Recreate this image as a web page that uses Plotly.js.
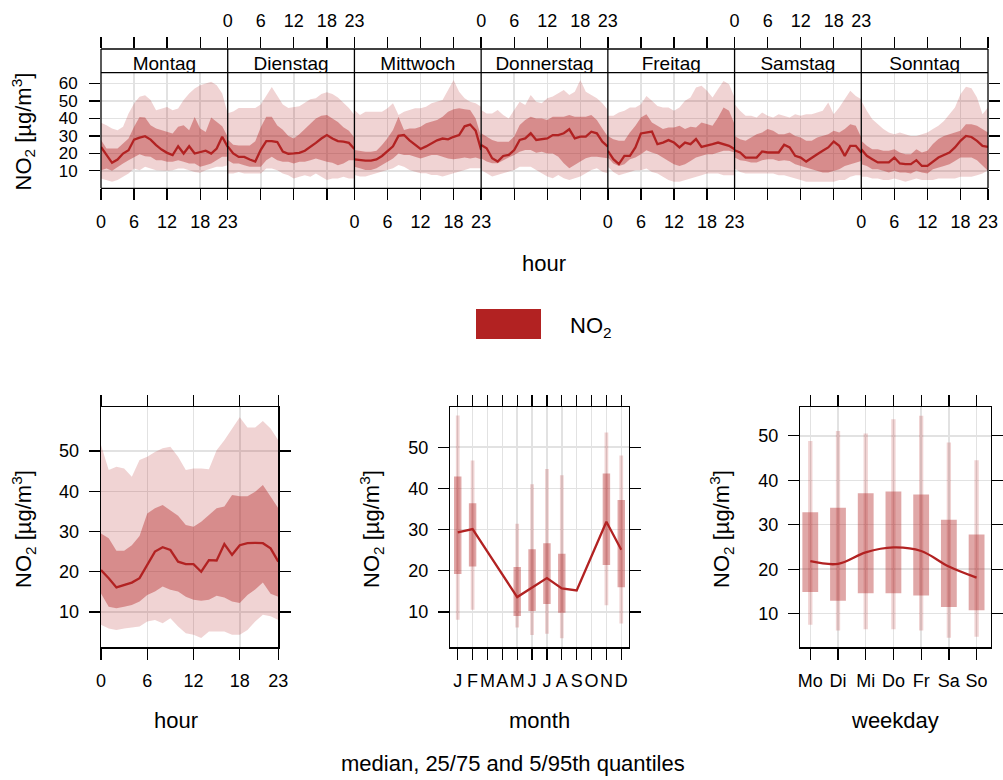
<!DOCTYPE html>
<html><head><meta charset="utf-8">
<script src="https://cdn.plot.ly/plotly-3.0.1.min.js"></script>
<style>html,body{margin:0;padding:0;background:#fff}#chart{width:1003px;height:780px}</style>
</head><body><div id="chart"></div>
<script>
// ---------------- DATA ----------------
const hours = [0,1,2,3,4,5,6,7,8,9,10,11,12,13,14,15,16,17,18,19,20,21,22,23];
const dayNames = ['Montag','Dienstag','Mittwoch','Donnerstag','Freitag','Samstag','Sonntag'];
const hourTicks = [0,6,12,18,23];

const moMed = [23.7,19.0,14.6,16.5,19.9,21.8,27.9,29.0,29.8,27.9,24.7,22.2,20.3,19.0,24.1,19.9,24.1,19.9,20.9,21.5,19.9,22.8,29.5,23.7];
const moQ75 = [27.6,22.8,22.8,22.8,25.6,28.5,35.2,40.9,40.5,36.1,34.2,33.3,32.3,31.4,35.2,36.1,33.3,40.9,34.2,32.3,40.5,38.0,35.6,29.5];
const moQ25 = [10.4,11.3,10.0,12.3,14.2,16.1,18.0,19.5,18.4,18.0,16.1,16.1,15.2,15.2,16.1,15.2,14.2,14.2,12.3,13.2,14.2,16.1,18.0,18.0];
const moQ95 = [37.5,36.1,34.2,33.3,35.2,42.8,48.5,52.4,53.3,50.5,44.7,45.7,46.6,44.7,45.7,50.5,54.3,57.1,59.0,60.0,61.0,59.0,54.3,42.8];
const moQ5  = [5.6,4.7,3.7,4.7,6.6,8.5,11.3,10.4,12.3,11.3,10.4,10.4,10.0,10.4,11.3,11.3,10.4,9.4,8.9,10.4,11.3,12.3,12.3,13.2];

const diMed = [24.0,20.0,18.0,18.0,16.5,15.3,22.0,27.0,27.0,26.5,21.0,19.8,20.0,20.3,21.5,23.5,26.0,28.5,30.5,28.5,27.0,26.7,26.0,22.5];
const diQ75 = [28.0,25.0,24.5,24.5,24.5,27.0,35.0,41.0,41.0,36.0,33.5,30.0,28.5,31.0,34.0,37.0,40.0,41.5,42.0,40.0,38.0,35.0,33.0,29.0];
const diQ25 = [16.1,14.2,14.2,13.2,12.3,12.3,12.3,16.1,18.0,16.1,15.2,15.2,14.2,15.2,15.2,16.1,17.1,16.1,15.2,14.6,13.2,14.2,16.1,16.1];
const diQ95 = [43.0,44.0,46.0,46.0,46.0,46.0,48.0,53.0,58.0,53.0,48.0,46.0,46.5,47.0,49.0,51.0,51.5,54.0,55.0,54.0,52.0,49.0,46.0,42.0];
const diQ5  = [8.5,8.5,9.4,8.5,8.5,8.5,8.5,11.3,11.3,10.4,8.5,7.5,5.6,6.6,7.5,6.6,8.5,6.6,4.7,5.6,5.6,6.6,5.6,5.6];

const miMed = [16.6,16.0,15.8,15.8,16.5,18.5,21.5,24.0,30.0,30.5,27.5,25.0,22.5,24.0,26.0,27.5,28.5,28.0,29.5,30.5,35.5,36.5,33.0,22.0];
const miQ75 = [22.0,21.5,21.0,21.0,21.5,24.8,28.6,33.4,41.0,33.4,34.3,34.3,35.3,37.2,38.1,39.1,41.0,43.9,45.2,45.8,45.2,44.8,40.0,29.6];
const miQ25 = [12.4,11.5,10.5,10.5,11.5,13.3,15.2,17.1,20.0,19.0,19.0,18.1,17.1,18.1,19.0,19.0,18.1,17.1,16.6,17.1,17.7,17.1,17.7,16.6];
const miQ95 = [44.8,42.0,43.9,43.9,43.9,43.9,45.8,48.7,42.0,43.9,44.8,45.8,45.8,46.7,48.7,49.6,50.6,56.3,62.0,55.3,51.5,49.6,48.7,46.7];
const miQ5  = [7.6,6.7,6.7,7.6,8.6,9.5,10.5,11.5,13.3,12.4,10.5,9.5,8.6,8.6,7.6,7.6,6.7,7.6,8.6,9.5,10.5,11.5,11.5,11.5];

const doMed = [24.8,22.9,17.2,15.3,18.5,19.1,21.9,27.7,28.6,31.5,27.7,28.0,28.6,30.5,30.5,31.5,33.8,28.6,29.6,29.6,32.4,31.5,26.7,23.8];
const doQ75 = [31.5,29.6,27.7,26.7,26.7,26.7,29.6,36.3,39.1,41.0,40.0,40.0,39.1,41.0,41.0,41.0,42.0,41.0,41.0,41.0,42.0,39.1,34.3,29.6];
const doQ25 = [17.2,15.3,14.3,14.3,16.2,17.7,19.0,21.0,21.9,21.9,20.4,21.0,20.0,20.0,18.1,14.3,11.5,13.3,15.3,17.2,18.1,18.1,17.7,17.2];
const doQ95 = [44.8,42.9,42.9,44.8,42.0,40.0,44.8,49.6,47.7,53.4,49.6,48.7,51.5,52.5,54.4,56.3,53.4,55.3,62.0,55.3,53.4,51.5,48.7,44.8];
const doQ5  = [10.5,8.6,6.7,7.6,8.6,9.5,10.5,12.4,12.4,12.4,10.5,8.6,6.7,5.7,7.6,5.7,4.8,5.7,6.7,8.6,10.5,11.5,9.5,8.6];

const frMed = [21.5,16.7,13.9,18.6,18.6,23.4,31.4,31.9,32.5,25.3,26.2,27.6,26.2,23.4,26.2,25.3,28.2,23.7,24.3,25.3,26.2,25.3,24.3,22.4];
const frQ75 = [30.0,28.1,27.2,27.2,31.9,35.8,40.5,42.4,37.7,35.8,33.9,34.8,34.8,35.8,33.9,35.2,34.8,37.7,36.7,35.8,40.5,46.3,44.4,36.7];
const frQ25 = [17.6,14.2,12.8,13.8,16.7,17.6,19.5,21.8,20.5,19.5,17.6,15.7,13.8,12.8,13.8,15.7,17.6,18.5,19.5,19.5,20.5,21.5,21.5,20.5];
const frQ95 = [41.5,41.5,43.4,44.4,46.3,46.3,48.2,52.9,50.1,47.2,46.3,46.3,44.4,46.3,50.1,52.0,57.7,58.7,55.8,52.0,56.8,61.5,59.6,52.0];
const frQ5  = [12.3,9.4,7.5,8.5,9.4,10.4,10.4,11.3,9.4,8.5,6.6,4.7,3.7,3.7,4.7,5.6,6.6,7.5,8.5,8.5,8.5,7.5,7.5,7.5];

const saMed = [21.8,20.5,17.6,17.6,17.6,21.1,20.5,20.5,20.5,24.9,23.4,18.6,17.6,15.3,17.6,19.5,21.5,23.4,26.8,24.3,18.6,24.3,24.3,20.5];
const saQ75 = [30.0,28.1,27.2,29.1,31.0,31.9,33.9,32.9,31.0,31.0,31.9,30.0,29.1,27.2,27.2,29.1,30.0,31.0,32.9,31.9,33.9,36.7,35.8,29.1];
const saQ25 = [17.6,16.1,15.7,14.8,14.8,16.1,16.7,16.7,15.7,16.1,15.7,13.8,12.8,11.9,10.9,10.0,9.0,9.0,10.0,10.9,12.8,13.8,14.8,15.7];
const saQ95 = [48.2,44.4,41.5,41.5,40.5,43.4,41.5,40.5,42.4,41.5,40.5,42.4,41.5,42.4,42.4,43.4,44.4,49.1,42.4,46.3,51.0,55.8,52.9,51.0];
const saQ5  = [11.3,9.4,8.5,8.5,8.5,8.5,8.5,8.5,7.5,7.5,6.6,5.6,4.7,3.7,3.7,3.7,3.7,3.7,3.7,4.7,4.7,6.6,7.5,7.5];

const soMed = [22.4,18.6,16.7,14.8,14.8,14.8,17.6,14.2,13.8,13.8,16.1,12.8,12.8,15.3,17.6,19.1,20.5,23.4,27.2,30.0,29.4,27.2,24.3,23.7];
const soQ75 = [27.2,24.3,22.4,22.4,21.5,21.5,22.4,20.5,19.5,19.5,22.4,20.5,21.5,25.3,28.2,30.0,31.0,31.9,32.9,36.7,36.7,35.8,33.9,31.9];
const soQ25 = [13.8,12.8,10.9,10.9,10.0,9.0,10.0,9.0,9.0,8.5,10.0,9.0,8.5,10.9,11.9,12.8,13.8,15.7,17.6,17.6,17.6,16.1,12.8,10.0];
const soQ95 = [50.1,44.4,39.6,36.7,33.9,31.9,31.0,31.9,31.0,30.0,30.0,31.0,31.9,33.9,35.8,38.6,42.4,46.3,53.9,58.1,57.3,52.0,42.4,46.3];
const soQ5  = [6.6,6.6,5.6,5.6,4.7,4.7,5.6,4.7,3.7,4.7,5.6,4.7,4.7,4.7,5.6,5.6,5.6,5.6,6.6,6.6,6.6,7.5,8.5,10.4];

// diurnal (all days)
const hourMed = [20.4,18.4,16.1,16.7,17.3,18.4,21.7,25.0,26.1,25.4,22.5,21.9,21.9,20.0,22.9,22.8,26.9,24.2,26.6,27.1,27.2,27.1,25.8,22.5];
const hourQ75 = [29.5,28.3,25.2,25.2,26.6,28.9,34.5,35.8,36.6,35.3,33.9,31.6,31.2,32.4,34.1,35.8,36.2,39.1,38.8,38.8,39.9,41.6,38.7,35.8];
const hourQ25 = [14.6,11.3,10.9,11.3,11.7,12.6,14.2,15.1,16.3,15.5,15.1,13.8,13.0,12.8,13.0,14.0,13.6,12.6,12.2,14.2,15.6,17.3,14.5,13.8];
const hourQ95 = [51.5,45.3,46.1,45.7,43.6,47.8,48.6,49.8,50.7,51.1,48.6,45.3,45.7,45.7,45.5,50.2,52.7,55.6,58.4,55.9,55.9,57.5,55.6,52.7];
const hourQ5  = [6.8,5.9,5.5,5.9,6.2,6.4,7.6,8.0,7.2,8.4,6.4,4.7,4.3,3.5,5.1,5.1,5.1,4.3,4.3,5.5,7.6,9.3,8.9,8.0];

// month
const months = [1,2,3,4,5,6,7,8,9,10,11,12];
const monthLabels = ['J','F','M','A','M','J','J','A','S','O','N','D'];
const monthMed = [29.3,30.1,null,null,13.6,15.9,18.2,15.7,15.2,null,31.9,25.1];
const monthQ25 = [19.2,21.0,null,null,9.0,10.2,11.9,9.8,null,null,21.4,16.0];
const monthQ75 = [42.9,36.4,null,null,20.9,25.2,26.7,24.1,null,null,43.6,37.2];
const monthQ5  = [8.1,10.5,null,null,6.2,4.4,4.7,3.6,null,null,11.6,7.2];
const monthQ95 = [57.7,46.8,null,null,31.4,41.0,44.7,43.2,null,null,53.6,48.0];

// weekday
const wdays = [1,2,3,4,5,6,7];
const wdayLabels = ['Mo','Di','Mi','Do','Fr','Sa','So'];
const wdMed = [21.8,21.2,23.8,24.9,24.1,20.6,18.1];
const wdQ25 = [14.9,12.9,14.6,14.6,14.1,11.5,10.8];
const wdQ75 = [32.8,33.8,37.1,37.5,36.8,31.1,27.8];
const wdQ5  = [7.5,6.2,6.5,6.5,6.2,4.6,4.8];
const wdQ95 = [48.8,51.1,50.5,53.7,54.5,48.5,44.5];

// ---------------- BUILD ----------------
const W = 1003, H = 780;
const px = v => v / W;
const py = v => 1 - v / H;
const FONT = 'Liberation Sans, Arial, sans-serif';
const RED = 'rgb(178,34,34)';
const OUTER = 'rgba(178,34,34,0.2)';
const INNER = 'rgba(178,34,34,0.4)';
const GRID = '#e2e2e2';
const TICKF = {family: FONT, size: 18, color: '#000'};

const days = [
  [moMed, moQ25, moQ75, moQ5, moQ95],
  [diMed, diQ25, diQ75, diQ5, diQ95],
  [miMed, miQ25, miQ75, miQ5, miQ95],
  [doMed, doQ25, doQ75, doQ5, doQ95],
  [frMed, frQ25, frQ75, frQ5, frQ95],
  [saMed, saQ25, saQ75, saQ5, saQ95],
  [soMed, soQ25, soQ75, soQ5, soQ95]
];

function band(xs, lo, hi, xa, ya, color) {
  return {type: 'scatter', mode: 'lines', x: xs.concat(xs.slice().reverse()),
    y: hi.concat(lo.slice().reverse()), fill: 'toself', fillcolor: color,
    line: {width: 0}, xaxis: xa, yaxis: ya, hoverinfo: 'skip'};
}
function medLine(xs, ys, xa, ya, extra) {
  return Object.assign({type: 'scatter', mode: 'lines', x: xs, y: ys,
    line: {color: RED, width: 2.3}, xaxis: xa, yaxis: ya, hoverinfo: 'skip'}, extra || {});
}

const traces = [];
const layout = {
  width: W, height: H, margin: {l: 0, r: 0, t: 0, b: 0},
  paper_bgcolor: '#fff', plot_bgcolor: 'rgba(0,0,0,0)',
  showlegend: false, barmode: 'overlay', hovermode: false,
  font: {family: FONT, color: '#000'},
  shapes: [], annotations: []
};

// top panels geometry
const L = 101, R = 988, pw = (R - L) / 7;
const stripTop = 49, panelTop = 72.7, panelBot = 188.3;

const axBase = {
  ticks: 'outside', ticklen: 11, tickwidth: 1.3, tickcolor: '#000',
  tickfont: TICKF, tickangle: 0, zeroline: false, fixedrange: true, showline: false
};

days.forEach((d, i) => {
  const n = i + 1, sn = i + 8;
  const xa = 'x' + (n === 1 ? '' : n);
  const sa = 'x' + sn;
  const dom = [px(L + i * pw), px(L + (i + 1) * pw)];
  layout['xaxis' + (n === 1 ? '' : n)] = Object.assign({}, axBase, {
    domain: dom, anchor: 'y', side: 'bottom', range: [0, 23],
    tickmode: 'array', tickvals: hourTicks, ticktext: hourTicks.map(String),
    showticklabels: i % 2 === 0, showgrid: true, gridcolor: GRID, gridwidth: 1.5,
    ticklabelstandoff: 6
  });
  layout['xaxis' + sn] = Object.assign({}, axBase, {
    domain: dom, anchor: 'y2', side: 'top', range: [0, 23],
    tickmode: 'array', tickvals: hourTicks, ticktext: hourTicks.map(String),
    showticklabels: i % 2 === 1, showgrid: false, ticklabelstandoff: 3
  });
  const [med, q25, q75, q5, q95] = d;
  traces.push(band(hours, q5, q95, xa, 'y', OUTER));
  traces.push(band(hours, q25, q75, xa, 'y', INNER));
  traces.push(medLine(hours, med, xa, 'y'));
  traces.push({type: 'scatter', mode: 'text', x: [11.5], y: [0.3], text: [dayNames[i]],
    textposition: 'middle center', cliponaxis: true,
    textfont: {family: FONT, size: 19, color: '#000'}, xaxis: sa, yaxis: 'y2', hoverinfo: 'skip'});
});

layout.yaxis = Object.assign({}, axBase, {
  domain: [py(panelBot), py(panelTop)], anchor: 'x', range: [0, 66.2],
  tickmode: 'array', tickvals: [10,20,30,40,50,60], showgrid: true, gridcolor: GRID, gridwidth: 1.5,
  ticklabelstandoff: 8, tickfont: {family: FONT, size: 17, color: '#000'}
});
layout.yaxis2 = {domain: [py(panelTop), py(stripTop)], anchor: 'x8', range: [0, 1],
  showgrid: false, zeroline: false, showticklabels: false, ticks: '', showline: false, fixedrange: true};
layout.yaxis3 = Object.assign({}, axBase, {
  overlaying: 'y', anchor: 'x7', side: 'right', range: [0, 66.2],
  tickmode: 'array', tickvals: [10,20,30,40,50,60], showticklabels: false, showgrid: false
});
traces.push({type: 'scatter', mode: 'lines', x: [null], y: [null], xaxis: 'x7', yaxis: 'y3', hoverinfo: 'skip'});

// top frame
const frameLine = {color: '#000', width: 1.3};
[stripTop, panelTop, panelBot].forEach(yv => layout.shapes.push({type: 'line', xref: 'paper', yref: 'paper',
  x0: px(L), x1: px(R), y0: py(yv), y1: py(yv), line: frameLine, layer: 'above'}));
for (let i = 0; i <= 7; i++) {
  layout.shapes.push({type: 'line', xref: 'paper', yref: 'paper', x0: px(L + i * pw), x1: px(L + i * pw),
    y0: py(stripTop), y1: py(panelBot), line: frameLine, layer: 'above'});
}

// bottom panels
const bTop = 407.3, bBot = 647.3;
const boxAx = Object.assign({}, axBase, {showline: true, linecolor: '#000', linewidth: 1.3, mirror: 'ticks',
  showgrid: true, gridcolor: GRID, gridwidth: 1.5});

// hour panel
layout.xaxis15 = Object.assign({}, boxAx, {domain: [px(101), px(278.3)], anchor: 'y4', range: [0, 23],
  tickmode: 'array', tickvals: hourTicks, ticklabelstandoff: 6});
layout.yaxis4 = Object.assign({}, boxAx, {domain: [py(bBot), py(bTop)], anchor: 'x15', range: [1.2, 60.9],
  tickmode: 'array', tickvals: [10,20,30,40,50], ticklabelstandoff: 6});
traces.push(band(hours, hourQ5, hourQ95, 'x15', 'y4', OUTER));
traces.push(band(hours, hourQ25, hourQ75, 'x15', 'y4', INNER));
traces.push(medLine(hours, hourMed, 'x15', 'y4'));

// month panel
layout.xaxis16 = Object.assign({}, boxAx, {domain: [px(450.3), px(628.7)], anchor: 'y5', range: [0.5, 12.5],
  tickmode: 'array', tickvals: months, ticktext: monthLabels, ticklabelstandoff: 6});
layout.yaxis5 = Object.assign({}, boxAx, {domain: [py(bBot), py(bTop)], anchor: 'x16', range: [1.4, 59.7],
  tickmode: 'array', tickvals: [10,20,30,40,50], ticklabelstandoff: 6});
const diff = (a, b) => a.map((v, i) => (v === null || b[i] === null) ? null : v - b[i]);
traces.push({type: 'bar', x: months, y: diff(monthQ95, monthQ5), base: monthQ5, width: 0.25,
  marker: {color: OUTER, line: {width: 0}}, xaxis: 'x16', yaxis: 'y5', hoverinfo: 'skip'});
traces.push({type: 'bar', x: months, y: diff(monthQ75, monthQ25), base: monthQ25, width: 0.5,
  marker: {color: INNER, line: {width: 0}}, xaxis: 'x16', yaxis: 'y5', hoverinfo: 'skip'});
traces.push(medLine(months, monthMed, 'x16', 'y5', {connectgaps: true}));

// weekday panel
layout.xaxis17 = Object.assign({}, boxAx, {domain: [px(800.3), px(991)], anchor: 'y6', range: [0.64, 7.52],
  tickmode: 'array', tickvals: wdays, ticktext: wdayLabels, ticklabelstandoff: 6});
layout.yaxis6 = Object.assign({}, boxAx, {domain: [py(bBot), py(bTop)], anchor: 'x17', range: [2.45, 56.4],
  tickmode: 'array', tickvals: [10,20,30,40,50], ticklabelstandoff: 6});
traces.push({type: 'bar', x: wdays, y: diff(wdQ95, wdQ5), base: wdQ5, width: 0.155,
  marker: {color: OUTER, line: {width: 0}}, xaxis: 'x17', yaxis: 'y6', hoverinfo: 'skip'});
traces.push({type: 'bar', x: wdays, y: diff(wdQ75, wdQ25), base: wdQ25, width: 0.57,
  marker: {color: INNER, line: {width: 0}}, xaxis: 'x17', yaxis: 'y6', hoverinfo: 'skip'});
traces.push(medLine(wdays, wdMed, 'x17', 'y6', {line: {color: RED, width: 2.3, shape: 'spline', smoothing: 1}}));

// legend
layout.shapes.push({type: 'rect', xref: 'paper', yref: 'paper', x0: px(476), x1: px(541), y0: py(339), y1: py(309),
  fillcolor: RED, line: {width: 0}});

// text annotations
function ann(text, x, y, size, opts) {
  layout.annotations.push(Object.assign({text, x: px(x), y: py(y), xref: 'paper', yref: 'paper',
    showarrow: false, font: {family: FONT, size, color: '#000'}, xanchor: 'center', yanchor: 'middle'}, opts || {}));
}
const yTitle = 'NO<sub>2</sub> [µg/m<sup>3</sup>]';
ann('NO<sub>2</sub>', 568, 327, 22, {xanchor: 'left'});
ann('hour', 544, 263, 22);
ann(yTitle, 23, 131.5, 22, {textangle: -90});
ann(yTitle, 23, 529, 22, {textangle: -90});
ann(yTitle, 371, 529, 22, {textangle: -90});
ann(yTitle, 721, 529, 22, {textangle: -90});
ann('hour', 176, 720, 22);
ann('month', 539, 720, 22);
ann('weekday', 895, 720, 22);
ann('median, 25/75 and 5/95th quantiles', 513, 763, 22);

Plotly.newPlot('chart', traces, layout, {staticPlot: true, displayModeBar: false});
</script>
</body></html>
